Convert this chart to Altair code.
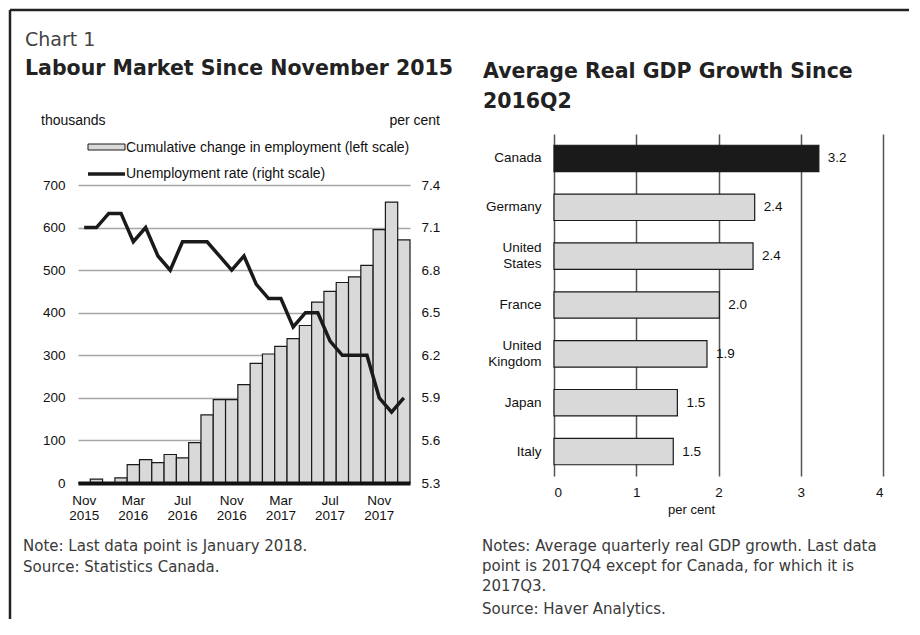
import altair as alt
import pandas as pd

# ---------------- data ----------------
months = ["Nov 2015", "Dec 2015",
          "Jan 2016", "Feb 2016", "Mar 2016", "Apr 2016", "May 2016", "Jun 2016",
          "Jul 2016", "Aug 2016", "Sep 2016", "Oct 2016", "Nov 2016", "Dec 2016",
          "Jan 2017", "Feb 2017", "Mar 2017", "Apr 2017", "May 2017", "Jun 2017",
          "Jul 2017", "Aug 2017", "Sep 2017", "Oct 2017", "Nov 2017", "Dec 2017",
          "Jan 2018"]
employment = [0, 9, 1, 12, 43, 55, 48, 67, 59, 95, 160, 196, 196, 231,
              281, 303, 321, 339, 370, 425, 450, 471, 484, 511, 595, 660, 571]
unemployment = [7.1, 7.1, 7.2, 7.2, 7.0, 7.1, 6.9, 6.8, 7.0, 7.0, 7.0, 6.9, 6.8, 6.9,
                6.7, 6.6, 6.6, 6.4, 6.5, 6.5, 6.3, 6.2, 6.2, 6.2, 5.9, 5.8, 5.9]
month_ticks = ["Nov 2015", "Mar 2016", "Jul 2016", "Nov 2016", "Mar 2017", "Jul 2017", "Nov 2017"]
emp_ticks = [0, 100, 200, 300, 400, 500, 600, 700]
rate_ticks = [5.3, 5.6, 5.9, 6.2, 6.5, 6.8, 7.1, 7.4]

countries = ["Canada", "Germany", "United States", "France", "United Kingdom", "Japan", "Italy"]
gdp_growth = [3.22, 2.44, 2.42, 2.01, 1.86, 1.50, 1.45]
gdp_labels = ["3.2", "2.4", "2.4", "2.0", "1.9", "1.5", "1.5"]
gdp_ticks = [0, 1, 2, 3, 4]

AX = "Liberation Sans"
TX = "DejaVu Sans"
INK = "#1a1a1a"
FILL = "#d9d9d9"
LBL = 13.5

one = pd.DataFrame({"a": [0]})


def text(t, x, y, size, font=TX, weight="normal", align="left", color="#3a3a3a", baseline="alphabetic"):
    return alt.Chart(pd.DataFrame({"t": [t]})).mark_text(
        align=align, baseline=baseline, font=font, fontSize=size,
        fontWeight=weight, color=color
    ).encode(x=alt.value(x), y=alt.value(y), text="t:N")


# ---------------- left chart ----------------
W1, H1 = 332, 349
yr = [349, 51]
lab = pd.DataFrame({"month": months, "employment": employment, "rate": unemployment})

xm = alt.X("month:O", sort=months,
           scale=alt.Scale(paddingInner=0, paddingOuter=0),
           axis=alt.Axis(title=None, values=month_ticks, labelExpr="split(datum.value, ' ')",
                         labelAngle=0, ticks=False, domainColor="#111", domainWidth=4,
                         labelPadding=10, labelFont=AX, labelFontSize=LBL, labelLineHeight=15,
                         labelColor="#111", zindex=1))

bars = alt.Chart(lab).mark_bar(fill=FILL, stroke=INK, strokeWidth=1.2).encode(
    x=xm,
    y=alt.Y("employment:Q", scale=alt.Scale(domain=[0, 700], range=yr, nice=False),
            axis=alt.Axis(title=None, values=emp_ticks, grid=True, gridColor="#a6a6a6",
                          gridWidth=1.5, domain=False, ticks=False, labelPadding=13,
                          labelFont=AX, labelFontSize=LBL, labelColor="#111")),
)

line = alt.Chart(lab).mark_line(color=INK, strokeWidth=3.5).encode(
    x=alt.X("month:O", sort=months),
    y=alt.Y("rate:Q", scale=alt.Scale(domain=[5.3, 7.4], range=yr, nice=False, zero=False),
            axis=alt.Axis(title=None, orient="right", values=rate_ticks, grid=False,
                          domain=False, ticks=False, labelPadding=11, format=".1f",
                          labelFont=AX, labelFontSize=LBL, labelColor="#111")),
)

leg_rect = alt.Chart(one).mark_rect(fill=FILL, stroke=INK, strokeWidth=1).encode(
    x=alt.value(10), x2=alt.value(47), y=alt.value(10), y2=alt.value(16))
leg_line = alt.Chart(one).mark_rule(color=INK, strokeWidth=3.5).encode(
    x=alt.value(10), x2=alt.value(47), y=alt.value(40))
leg_t1 = text("Cumulative change in employment (left scale)", 48, 14, 14, font=AX,
              color="#111", baseline="middle")
leg_t2 = text("Unemployment rate (right scale)", 48, 40, 14, font=AX,
              color="#111", baseline="middle")
unit_l = text("thousands", -37, -9, 14, font=AX, color="#111")
unit_r = text("per cent", 362, -9, 14, font=AX, color="#111", align="right")

chart_no = text("Chart 1", -53, -88, 19, color="#444")
title_l = text("Labour Market Since November 2015", -53, -59, 20.5, weight="bold", color="#222")
note_l1 = text("Note: Last data point is January 2018.", -55, 417, 15)
note_l2 = text("Source: Statistics Canada.", -55, 438, 15)

border_top = alt.Chart(one).mark_rule(color="#222", strokeWidth=2.5).encode(
    x=alt.value(-68), x2=alt.value(831), y=alt.value(-124))
border_left = alt.Chart(one).mark_rule(color="#222", strokeWidth=2.5).encode(
    x=alt.value(-68), y=alt.value(-124), y2=alt.value(485))

left = alt.layer(
    bars, line, leg_rect, leg_line, leg_t1, leg_t2, unit_l, unit_r,
    chart_no, title_l, note_l1, note_l2, border_top, border_left
).resolve_scale(y="independent").properties(width=W1, height=H1)

# ---------------- right chart ----------------
W2, H2 = 329, 342
gdp = pd.DataFrame({"country": countries, "growth": gdp_growth, "label": gdp_labels})

two_line = "indexof(datum.value, ' ') >= 0"
yc = alt.Y("country:N", sort=countries,
           scale=alt.Scale(paddingInner=0.46, paddingOuter=0.23),
           axis=alt.Axis(title=None, labelExpr="split(datum.value, ' ')", ticks=False,
                         domain=False, labelPadding=13, labelFont=AX, labelFontSize=LBL,
                         labelLineHeight=16, labelColor="#111",
                         labelOffset={"condition": {"test": two_line, "value": -8}, "value": 0}))
xg = alt.X("growth:Q", scale=alt.Scale(domain=[0, 4], nice=False),
           axis=alt.Axis(title="per cent", values=gdp_ticks, format=".0f", grid=True,
                         gridColor="#555", gridWidth=1.5, domain=False, ticks=False,
                         labelPadding=9, labelFont=AX, labelFontSize=LBL, labelColor="#111",
                         titleFont=AX, titleFontSize=13, titleFontWeight="normal",
                         titleColor="#111", titlePadding=5, titleX=137))

bars2 = alt.Chart(gdp).mark_bar(stroke=INK, strokeWidth=1.2).encode(
    x=xg, y=yc,
    fill=alt.condition(alt.datum.country == countries[0], alt.value(INK), alt.value(FILL)),
)
vals = alt.Chart(gdp).mark_text(align="left", baseline="middle", dx=9, font=AX,
                                fontSize=LBL, color="#111").encode(
    x=alt.X("growth:Q"), y=alt.Y("country:N", sort=countries), text="label:N")

title_r1 = text("Average Real GDP Growth Since", -71, -56, 20.5, weight="bold", color="#222")
title_r2 = text("2016Q2", -71, -26, 20.5, weight="bold", color="#222")
note_r1 = text("Notes: Average quarterly real GDP growth. Last data", -72, 417, 15)
note_r2 = text("point is 2017Q4 except for Canada, for which it is", -72, 437, 15)
note_r3 = text("2017Q3.", -72, 457, 15)
note_r4 = text("Source: Haver Analytics.", -72, 480, 15)

right = alt.layer(
    bars2, vals, title_r1, title_r2, note_r1, note_r2, note_r3, note_r4
).properties(width=W2, height=H2)

chart = alt.hconcat(left, right, spacing=144, bounds="flush").properties(
    padding=0, background="white"
).configure_view(stroke="transparent")

chart.save("out.html", embed_options={"renderer": "svg", "actions": False})
